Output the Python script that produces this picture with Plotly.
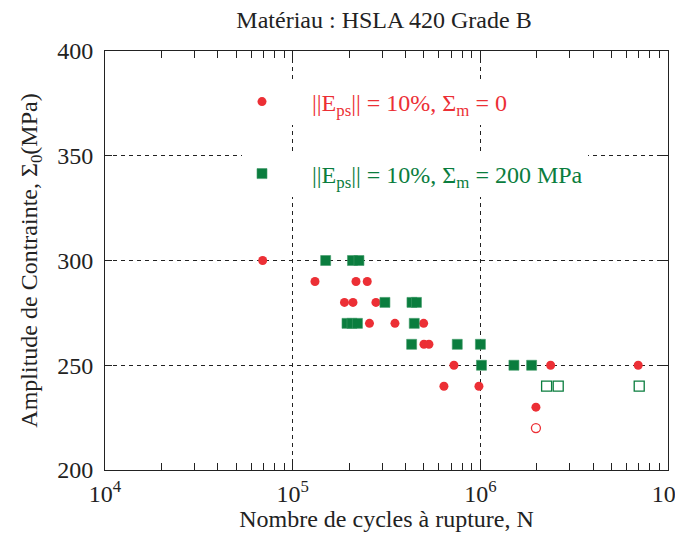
import plotly.graph_objects as go

# ---- data ----
red_N = [69200, 131500, 217500, 249700, 188800, 209600, 277800, 256600, 350800,
         498800, 500600, 532300, 723300, 2369000, 6938000, 639800, 983000, 1978000]
red_S = [300, 290, 290, 290, 280, 280, 280, 270, 270,
         270, 260, 260, 250, 250, 250, 240, 240, 230]
red_open_N = [1978000]
red_open_S = [220]

green_N = [149900, 208300, 225500, 310200, 432200, 456700, 194700, 207000, 221400,
           444500, 430500, 753400, 1001000, 1014000, 1510000, 1876000]
green_S = [300, 300, 300, 280, 280, 280, 270, 270, 270,
           270, 260, 260, 260, 250, 250, 250]
green_open_N = [2255000, 2600000, 7024000]
green_open_S = [240, 240, 240]

x_tickvals = [1e4, 1e5, 1e6, 1e7]
x_ticktext = ["10<sup>4</sup>", "10<sup>5</sup>", "10<sup>6</sup>", "10<sup>7</sup>"]
y_tickvals = [200, 250, 300, 350, 400]
x_minor_vals = [m * d for d in (1e4, 1e5, 1e6) for m in range(2, 10)]

RED = "#EC2F35"
GREEN = "#0A7D3E"
FONT = "Liberation Serif"
NB = "\u00a0"

fig = go.Figure()
fig.add_trace(go.Scatter(
    x=red_N, y=red_S, mode="markers",
    marker=dict(symbol="circle", size=9, color=RED, line=dict(width=0)),
    name=NB * 5 + "||E<sub>ps</sub>|| = 10%, Σ<sub>m</sub> = 0",
    legend="legend"))
fig.add_trace(go.Scatter(
    x=red_open_N, y=red_open_S, mode="markers",
    marker=dict(symbol="circle-open", size=9, color=RED, line=dict(width=1.3)),
    showlegend=False))
fig.add_trace(go.Scatter(
    x=green_N, y=green_S, mode="markers",
    marker=dict(symbol="square", size=10, color=GREEN, line=dict(width=0.6, color="#3f9a68")),
    name=NB * 5 + "||E<sub>ps</sub>|| = 10%, Σ<sub>m</sub> = 200 MPa",
    legend="legend2"))
fig.add_trace(go.Scatter(
    x=green_open_N, y=green_open_S, mode="markers",
    marker=dict(symbol="square-open", size=10, color=GREEN, line=dict(width=1.3)),
    showlegend=False))

grid = dict(showgrid=True, gridcolor="#222", gridwidth=1, griddash="4px,4px")

fig.update_xaxes(
    type="log", range=[4, 7], automargin=False,
    tickvals=x_tickvals, ticktext=x_ticktext,
    ticks="inside", ticklen=10, tickcolor="#222",
    ticklabelstandoff=2,
    minor=dict(tickvals=x_minor_vals, ticks="inside", ticklen=7,
               tickcolor="#222", showgrid=False),
    showline=True, linecolor="#222", linewidth=1, mirror="allticks",
    zeroline=False,
    tickfont=dict(family=FONT, size=24, color="#222"),
    title=dict(text="Nombre de cycles à rupture, N",
               font=dict(family=FONT, size=24, color="#222"), standoff=8),
    **grid)
fig.update_yaxes(
    range=[200, 400], tickvals=y_tickvals, automargin=False,
    ticks="inside", ticklen=7, tickcolor="#222",
    ticklabelstandoff=6,
    showline=True, linecolor="#222", linewidth=1, mirror="allticks",
    zeroline=False,
    tickfont=dict(family=FONT, size=24, color="#222"),
    title=dict(text="Amplitude de Contrainte, Σ<sub>0</sub>(MPa)",
               font=dict(family=FONT, size=24, color="#222"), standoff=12),
    **grid)

# page has an 8px body margin; figure offset accordingly
W, H = 683, 524
fig.update_layout(
    width=W, height=H,
    margin=dict(l=97, r=23, t=43, b=62),
    paper_bgcolor="white", plot_bgcolor="white",
    title=dict(text="Matériau : HSLA 420 Grade B", x=376 / W, xanchor="center",
               y=1 - 11.5 / H, yanchor="middle",
               font=dict(family=FONT, size=24, color="#222")),
    showlegend=True,
    legend=dict(x=137 / 563, xanchor="left", y=368 / 419, yanchor="middle",
                bgcolor="white", borderwidth=0,
                font=dict(family=FONT, size=24, color=RED)),
    legend2=dict(x=137 / 563, xanchor="left", y=296 / 419, yanchor="middle",
                 bgcolor="white", borderwidth=0,
                 font=dict(family=FONT, size=24, color=GREEN)),
)

fig.write_html("out.html")
